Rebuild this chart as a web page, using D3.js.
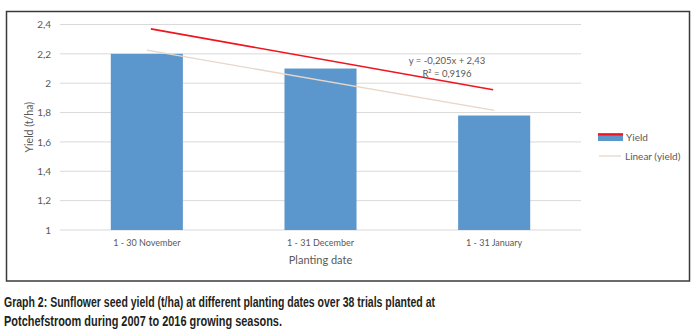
<!DOCTYPE html>
<html>
<head>
<meta charset="utf-8">
<script src="https://cdn.jsdelivr.net/npm/d3@7"></script>
<style>
  body { margin: 0; background: #fff; }
  svg text { font-family: Lato, "Open Sans", sans-serif; }
</style>
</head>
<body>
<div id="chart"></div>
<script>
// Planting windows and mean yields (t/ha)
var categories = ["1 - 30 November", "1 - 31 December", "1 - 31 January"];
var yieldValues = [2.2, 2.1, 1.78];
// red "Yield" line series
var yieldLine = [2.37, 1.955];
// linear trend: y = slope * x + intercept
var trendSlope = -0.205, trendIntercept = 2.43;
var trendLabel = ["y = -0,205x + 2,43", "R² = 0,9196"];
var yTicks = [1, 1.2, 1.4, 1.6, 1.8, 2, 2.2, 2.4];
var caption = [
  "Graph 2: Sunflower seed yield (t/ha) at different planting dates over 38 trials planted at",
  "Potchefstroom during 2007 to 2016 growing seasons."
];
var captionWidths = [431, 278];

(function() {
  var W = 700, H = 333;
  var plot = { left: 60, right: 581, top: 24.5, bottom: 230 };

  var svg = d3.select("#chart").append("svg")
    .attr("width", W).attr("height", H);

  // frame around the chart
  svg.append("rect")
    .attr("x", 6.5).attr("y", 11.5)
    .attr("width", 683).attr("height", 269.5)
    .attr("fill", "none")
    .attr("stroke", "#3a3a3a")
    .attr("stroke-width", 1.5);

  var x = d3.scaleBand()
    .domain(categories)
    .range([plot.left, plot.right])
    .paddingInner(0.585)
    .paddingOuter(0.2925);

  var y = d3.scaleLinear()
    .domain([1, 2.4])
    .range([plot.bottom, plot.top]);

  // gridlines
  svg.append("g")
    .selectAll("line")
    .data(yTicks)
    .enter().append("line")
    .attr("x1", plot.left).attr("x2", plot.right)
    .attr("y1", function(d) { return y(d); })
    .attr("y2", function(d) { return y(d); })
    .attr("stroke", "#d9d9d9")
    .attr("stroke-width", 1);

  // y axis labels
  var yAxis = d3.axisLeft(y)
    .tickValues(yTicks)
    .tickSize(0)
    .tickPadding(9)
    .tickFormat(function(d) { return String(d).replace(".", ","); });

  svg.append("g")
    .attr("transform", "translate(" + plot.left + ",0)")
    .call(yAxis)
    .call(function(g) { g.select(".domain").remove(); })
    .selectAll("text")
    .attr("fill", "#595959")
    .style("font-size", "10px");

  // bars
  svg.selectAll(".bar")
    .data(yieldValues)
    .enter().append("rect")
    .attr("class", "bar")
    .attr("x", function(d, i) { return x(categories[i]); })
    .attr("width", x.bandwidth())
    .attr("y", function(d) { return y(d); })
    .attr("height", function(d) { return plot.bottom - y(d); })
    .attr("fill", "#5b97cc");

  // x axis labels
  var xAxis = d3.axisBottom(x).tickSize(0).tickPadding(10);
  svg.append("g")
    .attr("transform", "translate(0," + plot.bottom + ")")
    .call(xAxis)
    .call(function(g) { g.select(".domain").remove(); })
    .selectAll("text")
    .attr("fill", "#595959")
    .style("font-size", "9px");

  var cx = function(i) { return x(categories[i]) + x.bandwidth() / 2; };

  // linear trend, drawn from the fitted equation at x = 1 and x = 3
  var trendPts = [0, 2].map(function(i) {
    return [cx(i), y(trendSlope * (i + 1) + trendIntercept)];
  });
  svg.append("path")
    .attr("d", d3.line()(trendPts))
    .attr("fill", "none")
    .attr("stroke", "#e8d6c8")
    .attr("stroke-width", 1.3);

  // red yield line
  var redPts = yieldLine.map(function(v, j) { return [cx(j * 2) + (j === 0 ? 4 : -1), y(v)]; });
  svg.append("path")
    .attr("d", d3.line()(redPts))
    .attr("fill", "none")
    .attr("stroke", "#f0141e")
    .attr("stroke-width", 1.6);

  // trend equation
  svg.append("g").selectAll("text")
    .data(trendLabel)
    .enter().append("text")
    .attr("x", 447)
    .attr("y", function(d, i) { return 64 + i * 13; })
    .attr("text-anchor", "middle")
    .attr("fill", "#595959")
    .style("font-size", "9.5px")
    .text(function(d) { return d; });

  // axis titles
  svg.append("text")
    .attr("transform", "translate(33," + ((plot.top + plot.bottom) / 2) + ") rotate(-90)")
    .attr("text-anchor", "middle")
    .attr("fill", "#595959")
    .style("font-size", "10.5px")
    .text("Yield (t/ha)");

  svg.append("text")
    .attr("x", (plot.left + plot.right) / 2)
    .attr("y", 264)
    .attr("text-anchor", "middle")
    .attr("fill", "#595959")
    .style("font-size", "11px")
    .text("Planting date");

  // legend
  var legend = svg.append("g").attr("transform", "translate(598,0)");
  legend.append("rect")
    .attr("x", 0).attr("y", 133).attr("width", 25).attr("height", 8)
    .attr("fill", "#5b97cc");
  legend.append("line")
    .attr("x1", 0).attr("x2", 25).attr("y1", 134.5).attr("y2", 134.5)
    .attr("stroke", "#f0141e").attr("stroke-width", 2);
  legend.append("text")
    .attr("x", 28).attr("y", 140.5)
    .attr("fill", "#595959")
    .style("font-size", "10px")
    .text("Yield");
  legend.append("line")
    .attr("x1", 1).attr("x2", 23).attr("y1", 156).attr("y2", 156)
    .attr("stroke", "#e8d6c8").attr("stroke-width", 1.3);
  legend.append("text")
    .attr("x", 27).attr("y", 159.5)
    .attr("fill", "#595959")
    .style("font-size", "10px")
    .text("Linear (yield)");

  // caption under the frame, squeezed to a condensed width
  svg.append("g").selectAll("text")
    .data(caption)
    .enter().append("text")
    .attr("x", 4)
    .attr("y", function(d, i) { return 307 + i * 19; })
    .attr("textLength", function(d, i) { return captionWidths[i]; })
    .attr("lengthAdjust", "spacingAndGlyphs")
    .attr("fill", "#231f20")
    .style("font-family", "'Liberation Sans Narrow', 'Liberation Sans', sans-serif")
    .style("font-weight", "bold")
    .style("font-size", "14.5px")
    .text(function(d) { return d; });
})();
</script>
</body>
</html>
